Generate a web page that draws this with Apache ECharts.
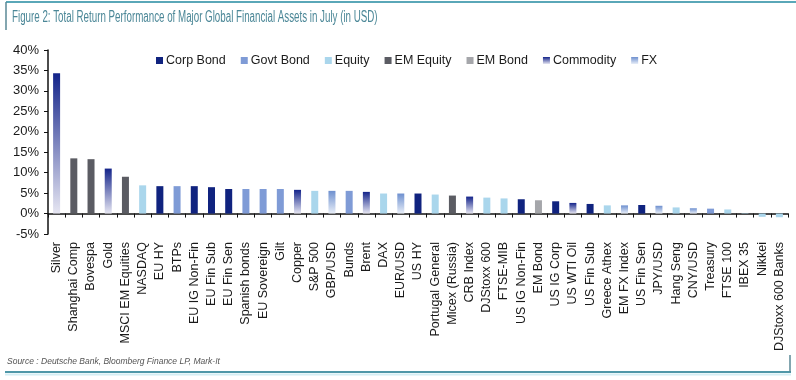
<!DOCTYPE html>
<html><head><meta charset="utf-8">
<script src="https://cdn.jsdelivr.net/npm/echarts@6/dist/echarts.min.js"></script>
<style>html,body{margin:0;padding:0;background:#fff}#c{width:796px;height:380px}</style>
</head><body><div id="c"></div>
<script>
var categories = ["Silver","Shanghai Comp","Bovespa","Gold","MSCI EM Equities","NASDAQ","EU HY","BTPs","EU IG Non-Fin","EU Fin Sub","EU Fin Sen","Spanish bonds","EU Sovereign","Gilt","Copper","S&P 500","GBP/USD","Bunds","Brent","DAX","EUR/USD","US HY","Portugal General","Micex (Russia)","CRB Index","DJStoxx 600","FTSE-MIB","US IG Non-Fin","EM Bond","US IG Corp","US WTI Oil","US Fin Sub","Greece Athex","EM FX Index","US Fin Sen","JPY/USD","Hang Seng","CNY/USD","Treasury","FTSE 100","IBEX 35","Nikkei","DJStoxx 600 Banks"];
var values = [34.3,13.5,13.3,11.0,9.0,6.9,6.7,6.7,6.7,6.45,6.0,6.0,6.0,6.0,5.8,5.55,5.55,5.55,5.3,4.9,4.9,4.9,4.65,4.4,4.15,3.9,3.7,3.5,3.25,3.0,2.6,2.35,2.0,2.0,2.1,1.9,1.5,1.3,1.2,1.0,0.1,-0.8,-0.9];
var groups = ["Commodity","EM Equity","EM Equity","Commodity","EM Equity","Equity","Corp Bond","Govt Bond","Corp Bond","Corp Bond","Corp Bond","Govt Bond","Govt Bond","Govt Bond","Commodity","Equity","FX","Govt Bond","Commodity","Equity","FX","Corp Bond","Equity","EM Equity","Commodity","Equity","Equity","Corp Bond","EM Bond","Corp Bond","Commodity","Corp Bond","Equity","FX","Corp Bond","FX","Equity","FX","Govt Bond","Equity","Equity","Equity","Equity"];
var legendNames = ["Corp Bond","Govt Bond","Equity","EM Equity","EM Bond","Commodity","FX"];
var yTicks = [-5,0,5,10,15,20,25,30,35,40];

function grad(top, bottom){
  return new echarts.graphic.LinearGradient(0,0,0,1,[{offset:0,color:top},{offset:1,color:bottom}]);
}
var colors = {
  "Corp Bond": "#10237f",
  "Govt Bond": "#7f9bd6",
  "Equity": "#aad6ec",
  "EM Equity": "#5b5c63",
  "EM Bond": "#a5a6aa",
  "Commodity": grad("#14248a","#e6e6f2"),
  "FX": grad("#6e90cf","#e8eef8")
};

var series = legendNames.map(function(name){
  return {
    name: name, type: 'bar', stack: 'all', barWidth: 7,
    itemStyle: {color: colors[name]},
    data: values.map(function(v,i){ return groups[i]===name ? v : '-'; })
  };
});

var chart = echarts.init(document.getElementById('c'), null, {renderer:'canvas'});
chart.setOption({
  animation: false,
  textStyle: {fontFamily: 'Liberation Sans, Arial, sans-serif'},
  grid: {left: 48, right: 8, top: 50, bottom: 146, containLabel: false},
  legend: {
    left: 151, top: 49, itemWidth: 7, itemHeight: 7, itemGap: 15, icon: 'rect',
    textStyle: {fontSize: 12.5, color: '#1a1a1a', fontFamily: 'Liberation Sans, Arial, sans-serif', padding: [0,0,0,-2]},
    data: legendNames
  },
  xAxis: {
    type: 'category', data: categories,
    axisLine: {onZero: true, lineStyle: {color: '#111', width: 1.5}},
    axisTick: {show: true, length: 4, inside: false, lineStyle: {color: '#111'}},
    axisLabel: {rotate: 90, margin: 8, fontSize: 12.5, color: '#1a1a1a', interval: 0}
  },
  yAxis: {
    type: 'value', min: yTicks[0], max: yTicks[yTicks.length-1], interval: 5,
    splitLine: {show: false},
    axisLine: {show: true, lineStyle: {color: '#111', width: 1.5}},
    axisTick: {show: true, length: 4, lineStyle: {color: '#111'}},
    axisLabel: {formatter: '{value}%', fontSize: 13, color: '#1a1a1a', margin: 9}
  },
  series: series,
  graphic: [
    {type:'line', shape:{x1:6,y1:2,x2:796,y2:2}, style:{stroke:'#5aa7b8', lineWidth:2}},
    {type:'line', shape:{x1:6,y1:2,x2:6,y2:30}, style:{stroke:'#5a8896', lineWidth:1.5}},
    {type:'text', x: 12, y: 10, scaleX: 0.61, style:{text:'Figure 2: Total Return Performance of Major Global Financial Assets in July (in USD)', font:'16px "Liberation Sans", Arial, sans-serif', fill:'#4b8797'}},
    {type:'text', x: 7, y: 357, style:{text:'Source : Deutsche Bank, Bloomberg Finance LP, Mark-It', font:'italic 8.5px "Liberation Sans", Arial, sans-serif', fill:'#555'}},
    {type:'line', shape:{x1:5,y1:372,x2:791,y2:372}, style:{stroke:'#4f97a8', lineWidth:2}},
    {type:'line', shape:{x1:5,y1:374.5,x2:791,y2:374.5}, style:{stroke:'#d4eef4', lineWidth:2}},
    {type:'line', shape:{x1:790,y1:355,x2:790,y2:372}, style:{stroke:'#5a8896', lineWidth:1.5}}
  ]
});
</script></body></html>
